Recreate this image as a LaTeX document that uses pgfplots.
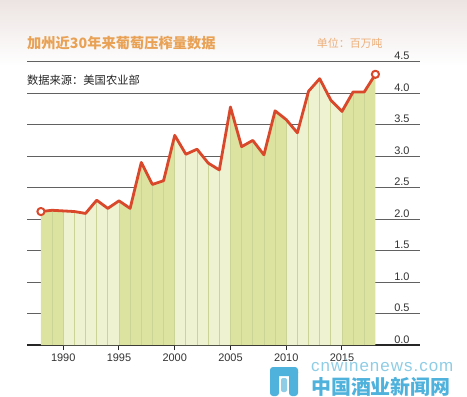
\documentclass[border=0pt]{standalone}
\usepackage{pgfplots}
\pgfplotsset{compat=1.18}
\usepackage{pgfplotstable}
\usepackage{fontspec}
\setmainfont{Liberation Sans}
\newfontfamily\cjk{Noto Sans CJK SC}
\newfontfamily\wmfont[LetterSpace=6]{Liberation Sans}
\definecolor{darkg}{HTML}{DCE3A0}
\definecolor{lightg}{HTML}{EEF2D0}
\definecolor{sepc}{HTML}{CBD396}
\definecolor{linec}{HTML}{D9482B}
\definecolor{titlec}{HTML}{E9A255}
\definecolor{unitc}{HTML}{EDB07A}
\definecolor{bgtop}{HTML}{ECE4E2}
\definecolor{wm}{HTML}{8FCDE6}
\definecolor{wmd}{HTML}{4FB2DC}
\pgfplotstableread{
year val
1988 2.12
1989 2.14
1990 2.13
1991 2.12
1992 2.09
1993 2.30
1994 2.17
1995 2.29
1996 2.17
1997 2.90
1998 2.55
1999 2.61
2000 3.33
2001 3.03
2002 3.11
2003 2.89
2004 2.78
2005 3.78
2006 3.15
2007 3.25
2008 3.02
2009 3.72
2010 3.58
2011 3.37
2012 4.03
2013 4.23
2014 3.89
2015 3.71
2016 4.02
2017 4.02
2018 4.30
}\grapedata
\begin{document}
\begin{tikzpicture}[x=1bp,y=1bp]
\useasboundingbox (0,0) rectangle (467,396);
\fill[white] (0,0) rectangle (467,396);
\shade[top color=bgtop, bottom color=white] (0,330) rectangle (467,396);
\begin{axis}[at={(27bp,51bp)}, anchor=south west, scale only axis,
  width=393bp, height=283.3bp,
  xmin=1986.75, xmax=2022, ymin=0, ymax=4.5,
  axis x line*=bottom, axis y line*=right,
  y axis line style={draw=none},
  x axis line style={line width=1.2bp, color=black!85, -},
  xtick={1990,1995,...,2015}, ytick={0,0.5,...,4.5},
  ymajorgrids, grid style={line width=0.9bp, color=black!62},
  tick align=outside, major tick length=5bp,
  xtick style={line width=1bp, color=black!85},
  ytick style={draw=none},
  xticklabel style={font=\fontsize{11}{13}\selectfont, text=black!80},
  yticklabel style={font=\fontsize{11}{13}\selectfont, text=black!80, anchor=base east, xshift=-12bp, yshift=2bp},
  /pgf/number format/1000 sep={},
  /pgf/number format/assume math mode=true,
  yticklabel={\pgfmathprintnumber[fixed,fixed zerofill,precision=1]{\tick}},
  clip=false]
\addplot[fill=darkg, draw=none] table {\grapedata} \closedcycle;
\addplot[fill=lightg, draw=none, restrict x to domain=1990:1995] table {\grapedata} \closedcycle;
\addplot[fill=lightg, draw=none, restrict x to domain=2000:2005] table {\grapedata} \closedcycle;
\addplot[fill=lightg, draw=none, restrict x to domain=2010:2015] table {\grapedata} \closedcycle;
\addplot[ycomb, draw=sepc, line width=0.8bp, restrict x to domain=1989:2017] table {\grapedata};
\addplot[color=linec, line width=2.8bp, line join=round, mark=*, mark size=3.6bp,
  mark options={fill=white, draw=linec, line width=2bp}, mark indices={1,31}] table {\grapedata};
\end{axis}
\node[anchor=west, inner sep=0, text=titlec, font=\cjk\bfseries\fontsize{14.3}{16}\selectfont] at (27,353) {加州近30年来葡萄压榨量数据};
\node[anchor=west, inner sep=0, text=unitc, font=\cjk\fontsize{11}{13}\selectfont] at (316.7,353) {单位：百万吨};
\node[anchor=west, inner sep=0, text=black!85, font=\cjk\fontsize{11.3}{13}\selectfont] at (27,316) {数据来源：美国农业部};
% watermark
\node[anchor=base west, inner sep=0, text height=0.55em, text depth=0pt, text=wm, font=\wmfont\fontsize{17}{19}\selectfont] at (311,25) {cnwinenews.com};
\node[anchor=base west, inner sep=0, text height=0.8em, text depth=0pt, text=wmd, font=\cjk\bfseries\fontsize{20}{22}\selectfont] at (311,2) {中国酒业新闻网};
\fill[wmd, rounded corners=3] (270,0) rectangle (279,27);
\fill[wmd, rounded corners=3] (270,20) rectangle (298,29);
\fill[wmd, rounded corners=3] (289,0) rectangle (298,27);
\fill[wm, rounded corners=2] (281,4) rectangle (287,18);
\end{tikzpicture}
\end{document}
